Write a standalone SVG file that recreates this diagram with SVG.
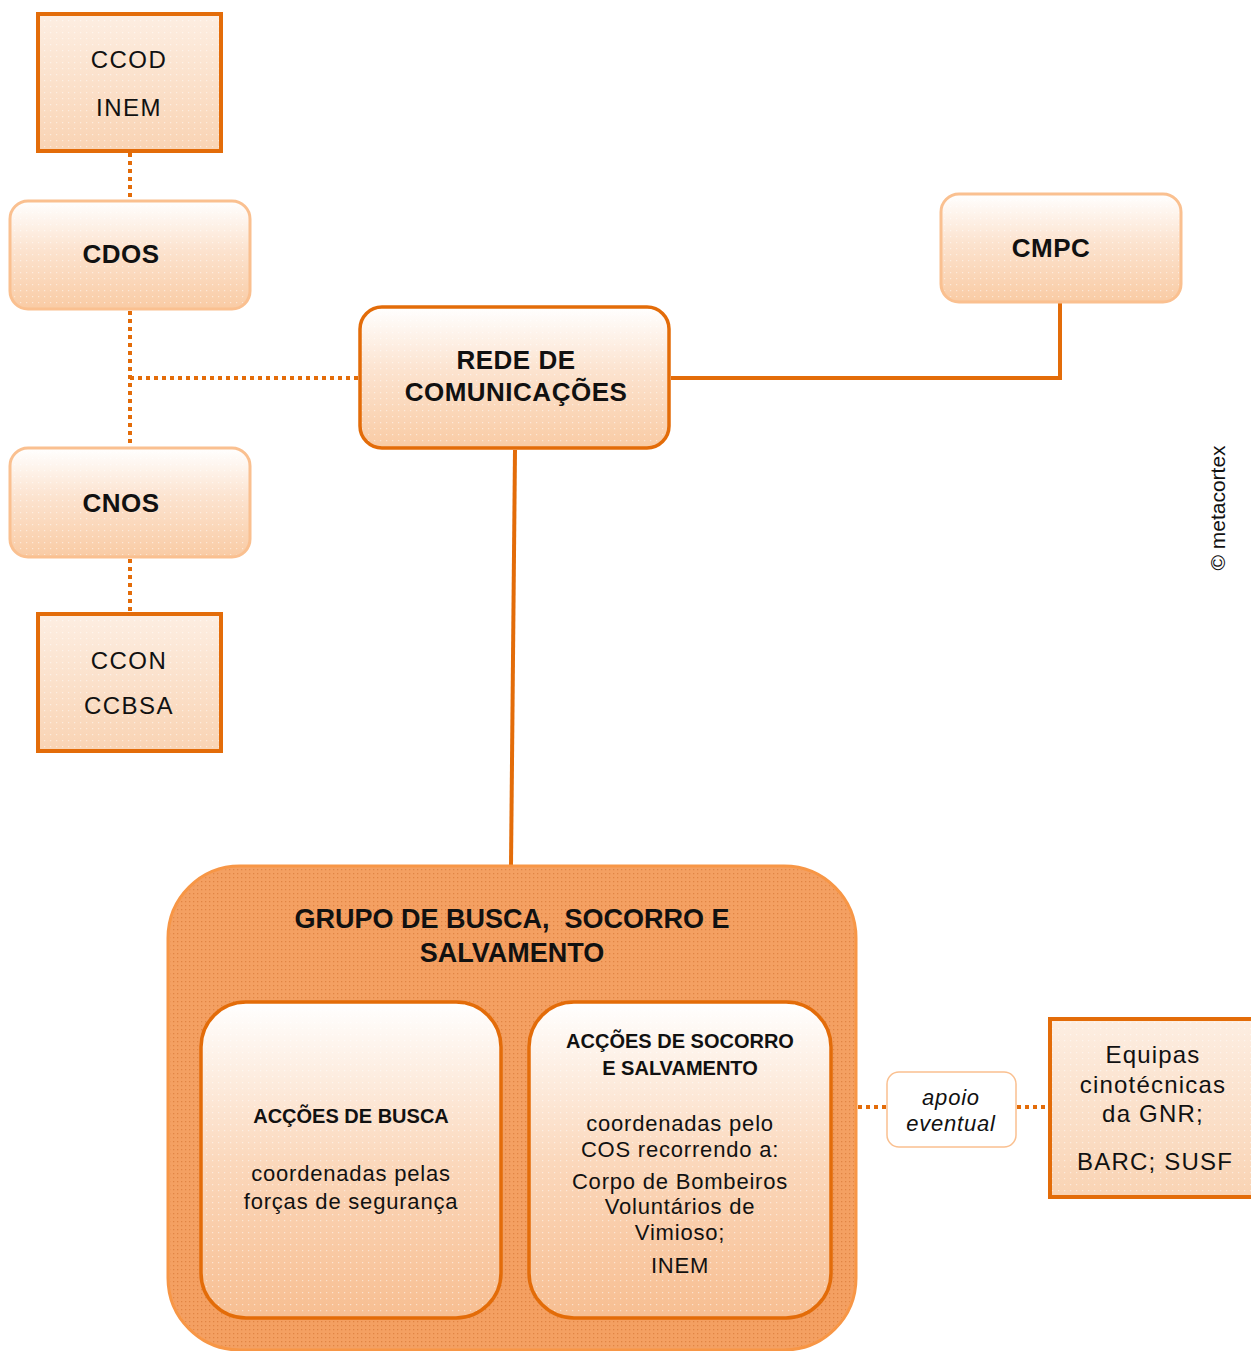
<svg xmlns="http://www.w3.org/2000/svg" width="1251" height="1351" viewBox="0 0 1251 1351">
<defs>
<linearGradient id="gLight" x1="0" y1="0" x2="0" y2="1">
<stop offset="0" stop-color="#FFFFFF"/>
<stop offset="0.45" stop-color="#FCE3CF"/>
<stop offset="1" stop-color="#F9CBA4"/>
</linearGradient>
<linearGradient id="gRect" x1="0" y1="0" x2="0" y2="1">
<stop offset="0" stop-color="#FDEEE2"/>
<stop offset="1" stop-color="#F9D3B3"/>
</linearGradient>
<linearGradient id="gInner" x1="0" y1="0" x2="0" y2="1">
<stop offset="0" stop-color="#FFFFFF"/>
<stop offset="0.5" stop-color="#FBD8BC"/>
<stop offset="1" stop-color="#F7BE91"/>
</linearGradient>
<pattern id="dots" width="6" height="6" patternUnits="userSpaceOnUse">
<rect x="2" y="2" width="1.2" height="1.2" fill="#FFFFFF" fill-opacity="0.5"/>
</pattern>
<pattern id="dotsDark" width="4" height="4" patternUnits="userSpaceOnUse">
<rect x="1" y="1" width="1.3" height="1.3" fill="#C8641E" fill-opacity="0.45"/>
</pattern>
<style>
.sq{stroke:#E36C09;stroke-width:4;fill:url(#gRect)}
.rl{stroke:#FAC090;stroke-width:3;fill:url(#gLight)}
.rd{stroke:#E36C09;stroke-width:3.5;fill:url(#gLight)}
.ri{stroke:#E36C09;stroke-width:3.5;fill:url(#gInner)}
.dt{stroke:#E36C09;stroke-width:4;stroke-dasharray:4 4;fill:none}
.so{stroke:#E36C09;stroke-width:4;fill:none}
text{font-family:"Liberation Sans","DejaVu Sans",sans-serif;fill:#111;text-anchor:middle}
.n{font-size:24px;letter-spacing:1.5px}
.b{font-size:26px;font-weight:bold;letter-spacing:0.5px}
.bc{font-size:20px;font-weight:bold}
.t{font-size:22px;letter-spacing:0.8px}
.e{font-size:24px;letter-spacing:1.2px}
</style>
</defs>
<rect width="1251" height="1351" fill="#FFFFFF"/>

<g id="connectors">
<line class="dt" x1="130" y1="153" x2="130" y2="201"/>
<line class="dt" x1="130" y1="311" x2="130" y2="448"/>
<line class="dt" x1="130" y1="378" x2="359" y2="378"/>
<line class="dt" x1="130" y1="559" x2="130" y2="614"/>
<polyline class="so" points="671,378 1060,378 1060,302"/>
<line class="so" x1="515" y1="450" x2="511" y2="866"/>
<line class="dt" x1="858" y1="1107" x2="887" y2="1107"/>
<line class="dt" x1="1017" y1="1107" x2="1048" y2="1107"/>
</g>

<g id="ccod">
<rect class="sq" x="38" y="14" width="183" height="137"/>
<rect x="40" y="16" width="179" height="133" fill="url(#dots)"/>
<text class="n" x="129" y="68">CCOD</text>
<text class="n" x="129" y="116">INEM</text>
</g>

<g id="cdos">
<rect class="rl" x="10" y="201" width="240" height="108" rx="18"/>
<rect x="12" y="203" width="236" height="104" rx="16" fill="url(#dots)"/>
<text class="b" x="121" y="263">CDOS</text>
</g>

<g id="cnos">
<rect class="rl" x="10" y="448" width="240" height="109" rx="18"/>
<rect x="12" y="450" width="236" height="105" rx="16" fill="url(#dots)"/>
<text class="b" x="121" y="512">CNOS</text>
</g>

<g id="ccon">
<rect class="sq" x="38" y="614" width="183" height="137"/>
<rect x="40" y="616" width="179" height="133" fill="url(#dots)"/>
<text class="n" x="129" y="669">CCON</text>
<text class="n" x="129" y="714">CCBSA</text>
</g>

<g id="rede">
<rect class="rd" x="360" y="307" width="309" height="141" rx="22"/>
<rect x="362" y="309" width="305" height="137" rx="20" fill="url(#dots)"/>
<text class="b" x="516" y="369">REDE DE</text>
<text class="b" x="516" y="401">COMUNICAÇÕES</text>
</g>

<g id="cmpc">
<rect class="rl" x="941" y="194" width="240" height="108" rx="18"/>
<rect x="943" y="196" width="236" height="104" rx="16" fill="url(#dots)"/>
<text class="b" x="1051" y="257">CMPC</text>
</g>

<g id="grupo">
<rect x="168" y="866" width="688" height="484" rx="72" fill="#F4A062" stroke="#F79646" stroke-width="3"/>
<rect x="170" y="868" width="684" height="480" rx="70" fill="url(#dotsDark)"/>
<text class="b" x="512" y="928" style="font-size:27px;letter-spacing:0">GRUPO DE BUSCA,&#160; SOCORRO E</text>
<text class="b" x="512" y="962" style="font-size:27px;letter-spacing:0">SALVAMENTO</text>
</g>

<g id="busca">
<rect class="ri" x="201" y="1002" width="300" height="316" rx="45"/>
<rect x="203" y="1004" width="296" height="312" rx="43" fill="url(#dots)"/>
<text class="bc" x="351" y="1123">ACÇÕES DE BUSCA</text>
<text class="t" x="351" y="1181">coordenadas pelas</text>
<text class="t" x="351" y="1209">forças de segurança</text>
</g>

<g id="socorro">
<rect class="ri" x="529" y="1002" width="302" height="316" rx="45"/>
<rect x="531" y="1004" width="298" height="312" rx="43" fill="url(#dots)"/>
<text class="bc" x="680" y="1048">ACÇÕES DE SOCORRO</text>
<text class="bc" x="680" y="1075">E SALVAMENTO</text>
<text class="t" x="680" y="1131">coordenadas pelo</text>
<text class="t" x="680" y="1157">COS recorrendo a:</text>
<text class="t" x="680" y="1189">Corpo de Bombeiros</text>
<text class="t" x="680" y="1214">Voluntários de</text>
<text class="t" x="680" y="1240">Vimioso;</text>
<text class="t" x="680" y="1273">INEM</text>
</g>

<g id="apoio">
<rect x="887" y="1072" width="129" height="75" rx="12" fill="#FFFFFF" stroke="#FAC090" stroke-width="1.5"/>
<text class="t" x="951" y="1105" font-style="italic">apoio</text>
<text class="t" x="951" y="1131" font-style="italic">eventual</text>
</g>

<g id="equipas">
<rect class="sq" x="1050" y="1019" width="205" height="178"/>
<rect x="1052" y="1021" width="199" height="174" fill="url(#dots)"/>
<text class="e" x="1153" y="1063">Equipas</text>
<text class="e" x="1153" y="1093">cinotécnicas</text>
<text class="e" x="1153" y="1122">da GNR;</text>
<text class="e" x="1155" y="1170">BARC; SUSF</text>
</g>

<text x="1225" y="508" transform="rotate(-90 1225 508)" style="font-size:21px">© metacortex</text>
</svg>
